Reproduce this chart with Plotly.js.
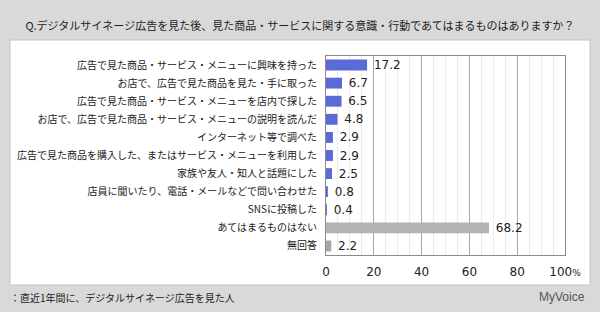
<!DOCTYPE html>
<html><head><meta charset="utf-8">
<script src="https://cdn.plot.ly/plotly-3.0.1.min.js"></script>
<style>html,body{margin:0;padding:0;background:#fff}#chart{width:600px;height:312px}</style>
</head><body><div id="chart"></div>
<script>
const categories = [
  "広告で見た商品・サービス・メニューに興味を持った",
  "お店で、広告で見た商品を見た・手に取った",
  "広告で見た商品・サービス・メニューを店内で探した",
  "お店で、広告で見た商品・サービス・メニューの説明を読んだ",
  "インターネット等で調べた",
  "広告で見た商品を購入した、またはサービス・メニューを利用した",
  "家族や友人・知人と話題にした",
  "店員に聞いたり、電話・メールなどで問い合わせた",
  "SNSに投稿した",
  "あてはまるものはない",
  "無回答"
];
const values = [17.2, 6.7, 6.5, 4.8, 2.9, 2.9, 2.5, 0.8, 0.4, 68.2, 2.2];
const barColors = ["#5a6ad8","#5a6ad8","#5a6ad8","#5a6ad8","#5a6ad8","#5a6ad8","#5a6ad8","#5a6ad8","#5a6ad8","#b3b3b3","#a6a6a6"];
const tickVals = [0, 20, 40, 60, 80, 100];
const tickText = ["0", "20", "40", "60", "80", "100<span style='font-size:9px'>%</span>"];
const titleText = "Q.デジタルサイネージ広告を見た後、見た商品・サービスに関する意識・行動であてはまるものはありますか？";
const footText = "：直近1年間に、デジタルサイネージ広告を見た人";
const brandText = "MyVoice";

const font = "'Noto Sans CJK JP', 'Noto Sans', sans-serif";

const trace = {
  type: "bar",
  orientation: "h",
  x: values,
  y: categories,
  width: 0.6,
  marker: {color: barColors, line: {width: 0}},
  text: values.map(v => "\u00a0" + v.toFixed(1)),
  textposition: "outside",
  constraintext: "none",
  cliponaxis: false,
  textfont: {family: "'DejaVu Sans', sans-serif", size: 12, color: "#222"},
  hoverinfo: "none"
};

const layout = {
  width: 600, height: 312,
  paper_bgcolor: "#d9d9d9",
  plot_bgcolor: "#ffffff",
  margin: {l: 326, r: 35, t: 56, b: 57},
  showlegend: false,
  bargap: 0.4,
  font: {family: font, size: 11, color: "#222"},
  title: {text: titleText, x: 0.5, xanchor: "center", y: 0.915, yanchor: "middle",
          font: {family: font, size: 11, color: "#222"}},
  xaxis: {
    range: [0, 100], tickvals: tickVals, ticktext: tickText,
    showgrid: true, gridcolor: "#a8a8a8", gridwidth: 1,
    minor: {dtick: 5, showgrid: true, gridcolor: "#ececec", gridwidth: 1},
    showline: true, linecolor: "#8a8a8a", mirror: true, linewidth: 1,
    ticks: "", ticklen: 0, zeroline: false, ticklabelstandoff: 6,
    tickfont: {family: "'DejaVu Sans', sans-serif", size: 12, color: "#222"}, fixedrange: true
  },
  yaxis: {
    autorange: "reversed", showgrid: false, ticks: "", ticklen: 0,
    showline: true, linecolor: "#8a8a8a", mirror: true, ticklabelstandoff: 6,
    tickfont: {family: font, size: 10, color: "#222"}, fixedrange: true
  },
  shapes: [
    {type: "rect", xref: "paper", yref: "paper", layer: "below",
     x0: -316/239, x1: (590-326)/239, y0: -(285-255)/199, y1: (255-40)/199,
     fillcolor: "#ffffff", line: {color: "#c4c4c4", width: 1}}
  ],
  annotations: [
    {text: footText, xref: "paper", yref: "paper", x: -318/239, y: -(297-255)/199,
     xanchor: "left", yanchor: "middle", showarrow: false,
     font: {family: font, size: 10, color: "#222"}},
    {text: brandText, xref: "paper", yref: "paper", x: (587-326)/239, y: -(297-255)/199,
     xanchor: "right", yanchor: "middle", showarrow: false,
     font: {family: "'Liberation Sans', sans-serif", size: 12, color: "#555"}}
  ]
};

Plotly.newPlot("chart", [trace], layout, {displayModeBar: false, staticPlot: true});
</script></body></html>
